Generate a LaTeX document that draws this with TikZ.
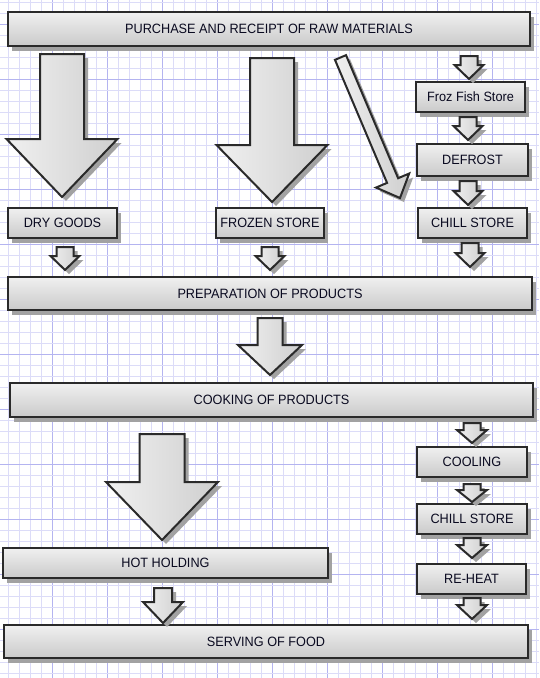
\documentclass[tikz,border=0pt]{standalone}
\usepackage{fontspec}
\setmainfont[FakeStretch=0.94]{Liberation Sans}
\definecolor{gridminor}{HTML}{DCDCF8}
\definecolor{gridmajor}{HTML}{B4B4F0}
\definecolor{boxline}{HTML}{2A2A2A}
\definecolor{boxtop}{HTML}{F0F0F0}
\definecolor{boxbot}{HTML}{CACACA}
\definecolor{arrL}{HTML}{F0F0F0}
\definecolor{arrR}{HTML}{CFCFCF}
\definecolor{shadowc}{HTML}{A2A2A2}
\definecolor{txt}{HTML}{0A0A20}
\newcommand\mybox[6]{%
  \fill[shadowc] ({#2+4},{#3+5}) rectangle ({#4+4},{#5+5});
  \node[box, minimum width={(#4-#2)*1pt}, minimum height={(#5-#3)*1pt}] (#1) at ({(#2+#4)/2},{(#3+#5)/2}) {#6};
}
% cx, ytop, yhead, ytip, shaft width, head width
\newcommand\varrow[6]{%
  \fill[shadowc] ({#1-#5/2+4},{#2+4}) -- ({#1+#5/2+4},{#2+4}) -- ({#1+#5/2+4},{#3+4}) -- ({#1+#6/2+4},{#3+4}) -- ({#1+4},{#4+4}) -- ({#1-#6/2+4},{#3+4}) -- ({#1-#5/2+4},{#3+4}) -- cycle;
  \draw[blockarrow] ({#1-#5/2},{#2}) -- ({#1+#5/2},{#2}) -- ({#1+#5/2},{#3}) -- ({#1+#6/2},{#3}) -- ({#1},{#4}) -- ({#1-#6/2},{#3}) -- ({#1-#5/2},{#3}) -- cycle;
}
\begin{document}
\begin{tikzpicture}[x=1pt,y=-1pt,
  box/.style={draw=boxline, line width=2pt, top color=boxtop, bottom color=boxbot, inner sep=0pt, font=\fontsize{13.5}{16}\selectfont, text=txt},
  blockarrow/.style={draw=boxline, line width=2pt, line join=miter, left color=arrL, right color=arrR},
  gmin/.style={draw=gridminor, line width=0.8pt},
  gmaj/.style={draw=gridmajor, line width=0.9pt}]
\useasboundingbox (0,0) rectangle (539,678);
\fill[white] (0,0) rectangle (539,678);
% grid
\foreach \k in {-1,...,48} {
  \pgfmathtruncatemacro\m{mod(\k+10,5)}
  \ifnum\m=4 \draw[gmaj] ({8.5+11*\k},0) -- ({8.5+11*\k},678);
  \else \draw[gmin] ({8.5+11*\k},0) -- ({8.5+11*\k},678); \fi
}
\foreach \k in {0,...,61} {
  \pgfmathtruncatemacro\m{mod(\k,5)}
  \ifnum\m=2 \draw[gmaj] (0,{2+11*\k}) -- (539,{2+11*\k});
  \else \draw[gmin] (0,{2+11*\k}) -- (539,{2+11*\k}); \fi
}
% boxes
\mybox{top}{8}{12}{530}{46}{PURCHASE AND RECEIPT OF RAW MATERIALS}
\mybox{froz}{416}{82}{525}{112}{Froz Fish Store}
\mybox{defrost}{417}{144}{528}{176}{DEFROST}
\mybox{chilla}{418}{208}{527}{238}{CHILL STORE}
\mybox{dry}{8}{208}{117}{238}{DRY GOODS}
\mybox{frozen}{216}{208}{324}{238}{FROZEN STORE}
\mybox{prep}{8}{277}{532}{310}{PREPARATION OF PRODUCTS}
\mybox{cook}{10}{383}{533}{417}{COOKING OF PRODUCTS}
\mybox{cooling}{417}{447}{527}{477}{COOLING}
\mybox{chillb}{417}{504}{527}{534}{CHILL STORE}
\mybox{reheat}{417}{564}{526}{594}{RE-HEAT}
\mybox{hot}{3}{548}{328}{578}{HOT HOLDING}
\mybox{serve}{4}{625}{528}{658}{SERVING OF FOOD}
% big arrows
\varrow{62}{54}{139}{197}{44}{111}
\varrow{272}{58}{145}{202}{44}{111}
\varrow{270}{318}{345}{375}{25}{64}
\varrow{162}{434}{482}{540}{45}{112}
% diagonal arrow
\fill[shadowc] (338.97,63.84) -- (350.03,59.16) -- (402.13,182.21) -- (413.18,177.53) -- (404,202) -- (380.02,191.57) -- (391.07,186.89) -- cycle;
\draw[blockarrow] (334.97,59.84) -- (346.03,55.16) -- (398.13,178.21) -- (409.18,173.53) -- (400,198) -- (376.02,187.57) -- (387.07,182.89) -- cycle;
% small arrows
\varrow{469}{56}{65}{79}{17}{29}
\varrow{468}{117}{126}{140}{17}{29}
\varrow{468}{181}{191}{205}{17}{29}
\varrow{470}{243}{253}{267}{17}{29}
\varrow{65}{247}{256}{270}{17}{29}
\varrow{270}{247}{256}{270}{17}{29}
\varrow{472}{423}{430}{443}{17}{30}
\varrow{472}{484}{490}{502}{17}{30}
\varrow{472}{538}{545}{558}{17}{30}
\varrow{472}{598}{605}{619}{17}{30}
\varrow{163}{588}{602}{623}{18}{40}
\end{tikzpicture}
\end{document}
